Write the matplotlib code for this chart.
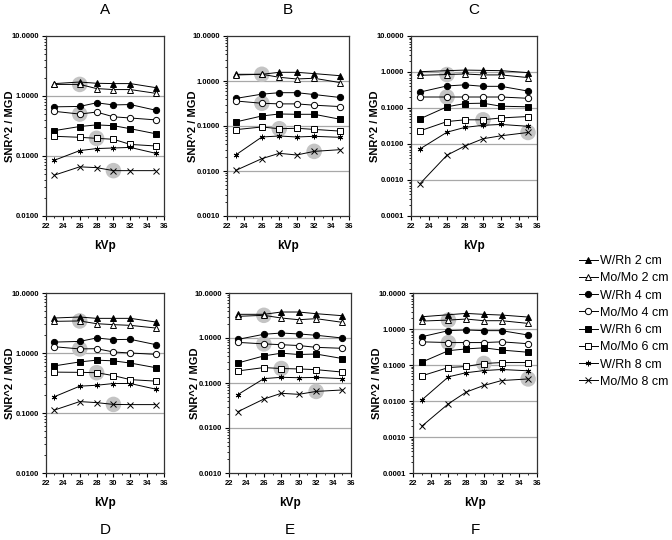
import numpy as np
import matplotlib
matplotlib.use("Agg")
import matplotlib.pyplot as plt
from matplotlib.ticker import FixedLocator, NullFormatter, LogLocator

plt.rcParams['font.family'] = ['Liberation Sans', 'DejaVu Sans']

kvp = [23, 26, 28, 30, 32, 35]
series_names = ["W/Rh 2 cm", "Mo/Mo 2 cm", "W/Rh 4 cm", "Mo/Mo 4 cm",
                "W/Rh 6 cm", "Mo/Mo 6 cm", "W/Rh 8 cm", "Mo/Mo 8 cm"]

# panel A
a_vals = [
    [1.61, 1.71, 1.63, 1.61, 1.61, 1.38],
    [1.56, 1.56, 1.33, 1.28, 1.28, 1.11],
    [0.66, 0.67, 0.77, 0.71, 0.72, 0.58],
    [0.555, 0.50, 0.54, 0.45, 0.43, 0.40],
    [0.265, 0.31, 0.33, 0.32, 0.285, 0.235],
    [0.213, 0.205, 0.197, 0.19, 0.156, 0.147],
    [0.085, 0.123, 0.133, 0.136, 0.139, 0.111],
    [0.048, 0.066, 0.064, 0.057, 0.057, 0.057],
]
# panel B
b_vals = [
    [1.41, 1.41, 1.56, 1.56, 1.46, 1.31],
    [1.36, 1.41, 1.21, 1.11, 1.15, 0.92],
    [0.41, 0.51, 0.55, 0.55, 0.50, 0.43],
    [0.36, 0.32, 0.31, 0.31, 0.29, 0.27],
    [0.123, 0.167, 0.185, 0.182, 0.182, 0.141],
    [0.083, 0.095, 0.087, 0.089, 0.084, 0.077],
    [0.0227, 0.057, 0.060, 0.057, 0.059, 0.056],
    [0.0103, 0.0188, 0.0247, 0.0227, 0.0273, 0.0298],
]
# panel C
c_vals = [
    [1.02, 1.09, 1.13, 1.11, 1.09, 0.96],
    [0.81, 0.85, 0.88, 0.83, 0.83, 0.70],
    [0.277, 0.41, 0.44, 0.40, 0.40, 0.295],
    [0.202, 0.202, 0.202, 0.202, 0.202, 0.186],
    [0.050, 0.108, 0.133, 0.136, 0.112, 0.108],
    [0.0232, 0.042, 0.047, 0.047, 0.053, 0.058],
    [0.0073, 0.0213, 0.029, 0.033, 0.035, 0.031],
    [0.00079, 0.0049, 0.0088, 0.014, 0.0169, 0.0209],
]
# panel D
d_vals = [
    [3.83, 3.98, 3.78, 3.78, 3.78, 3.29],
    [3.37, 3.42, 3.08, 2.97, 2.89, 2.61],
    [1.52, 1.56, 1.78, 1.67, 1.69, 1.38],
    [1.27, 1.17, 1.18, 1.04, 1.00, 0.95],
    [0.61, 0.71, 0.76, 0.74, 0.68, 0.57],
    [0.48, 0.476, 0.47, 0.42, 0.36, 0.34],
    [0.187, 0.28, 0.29, 0.31, 0.31, 0.25],
    [0.112, 0.155, 0.149, 0.139, 0.138, 0.138],
]
# panel E
e_vals = [
    [3.36, 3.36, 3.78, 3.78, 3.47, 3.13],
    [3.03, 3.19, 2.78, 2.55, 2.69, 2.23],
    [0.93, 1.21, 1.29, 1.23, 1.15, 1.00],
    [0.80, 0.74, 0.71, 0.68, 0.62, 0.59],
    [0.278, 0.40, 0.46, 0.43, 0.44, 0.35],
    [0.185, 0.22, 0.21, 0.205, 0.198, 0.175],
    [0.055, 0.125, 0.134, 0.131, 0.133, 0.125],
    [0.023, 0.044, 0.059, 0.056, 0.065, 0.070],
]
# panel F
f_vals = [
    [2.19, 2.49, 2.71, 2.55, 2.44, 2.15],
    [1.66, 1.77, 1.89, 1.70, 1.70, 1.43],
    [0.61, 0.90, 0.94, 0.90, 0.90, 0.68],
    [0.44, 0.42, 0.42, 0.42, 0.44, 0.39],
    [0.12, 0.25, 0.28, 0.30, 0.26, 0.226],
    [0.050, 0.085, 0.091, 0.110, 0.117, 0.117],
    [0.0107, 0.047, 0.061, 0.070, 0.075, 0.069],
    [0.0020, 0.0084, 0.0177, 0.027, 0.037, 0.041],
]

# kVp of the highlighted Mo/Mo point for 2, 4, 6, 8 cm
a_best = [26, 26, 28, 30]
b_best = [26, 26, 28, 32]
c_best = [26, 26, 30, 35]

# letter, data, highlights, y min, axes box (px: left, top, right, bottom), ylabel x
panels = [
    ("A", a_vals, a_best, 0.01, [46, 36, 164, 216], 15, "top"),
    ("B", b_vals, b_best, 0.001, [227, 36, 349, 216], 198, "top"),
    ("C", c_vals, c_best, 0.0001, [411, 36, 537, 216], 380, "top"),
    ("D", d_vals, a_best, 0.01, [46, 293, 164, 473], 15, "bottom"),
    ("E", e_vals, b_best, 0.001, [229, 293, 351, 473], 200, "bottom"),
    ("F", f_vals, c_best, 0.0001, [413, 293, 537, 473], 382, "bottom"),
]

styles = [
    dict(marker="^", mfc="black"),
    dict(marker="^", mfc="white"),
    dict(marker="o", mfc="black"),
    dict(marker="o", mfc="white"),
    dict(marker="s", mfc="black"),
    dict(marker="s", mfc="white"),
    dict(marker=(6, 2, 0), mfc="black"),
    dict(marker="x", mfc="black"),
]

W, H = 672, 540
fig = plt.figure(figsize=(W / 100, H / 100), dpi=100)

handles = []
for letter, vals, best, ymin, box, ylab_x, row in panels:
    l, t, r, b = box
    ax = fig.add_axes([l / W, 1 - b / H, (r - l) / W, (b - t) / H])
    ax.set_yscale("log")
    ax.set_ylim(ymin, 10)
    ax.set_xlim(22, 36)

    # grey highlight circles behind the chosen points
    for k, kv in enumerate(best):
        idx = 2 * k + 1
        ax.scatter([kv], [vals[idx][kvp.index(kv)]], s=125, color="#c4c4c4",
                   edgecolors="none", zorder=1)

    for i, v in enumerate(vals):
        st = styles[i]
        ms = 4.5 if st["marker"] in ("^", "o", "s") else 4
        h, = ax.plot(kvp, v, color="black", lw=0.7, marker=st["marker"],
                     mfc=st["mfc"], mec="black", mew=0.7, ms=ms, zorder=3,
                     label=series_names[i])
        if letter == "A":
            handles.append(h)

    # grey horizontal lines at the decades
    dec = 10.0 ** np.arange(np.log10(ymin) + 1, 1)
    for d in dec:
        ax.axhline(d, color="#a8a8a8", lw=0.9, zorder=0)

    ax.yaxis.set_major_locator(LogLocator(base=10, numticks=10))
    ax.yaxis.set_minor_locator(LogLocator(base=10, subs=np.arange(2, 10), numticks=10))
    ax.yaxis.set_minor_formatter(NullFormatter())
    ax.yaxis.set_major_formatter(plt.FuncFormatter(lambda y, p: "%.4f" % y))
    ax.xaxis.set_major_locator(FixedLocator(range(22, 37, 2)))
    ax.xaxis.set_minor_locator(FixedLocator(range(23, 36, 2)))

    ax.tick_params(which="major", length=3, width=0.8, labelsize=5.5, pad=2)
    ax.tick_params(which="minor", length=1.5, width=0.6)
    for lab in ax.get_xticklabels() + ax.get_yticklabels():
        lab.set_fontweight("bold")
    for sp in ax.spines.values():
        sp.set_linewidth(0.9)
        sp.set_color("#333333")

    ax.set_ylabel("SNR^2 / MGD", fontsize=8, fontweight="bold")
    ax.yaxis.set_label_coords((ylab_x - l) / (r - l), 0.5)
    ax.set_xlabel("kVp", fontsize=8.5, fontweight="bold", labelpad=7)

    cx = (l + r) / 2 / W
    ty = 10 if row == "top" else 530
    fig.text(cx, 1 - ty / H, letter, ha="center", va="center", fontsize=11)

fig.legend(handles=handles, loc="upper left",
           bbox_to_anchor=(574 / W, 1 - 250 / H), frameon=False,
           fontsize=9, handlelength=1.5, handletextpad=0.2,
           labelspacing=0.42, borderaxespad=0)

fig.savefig("out.png", dpi=100)
